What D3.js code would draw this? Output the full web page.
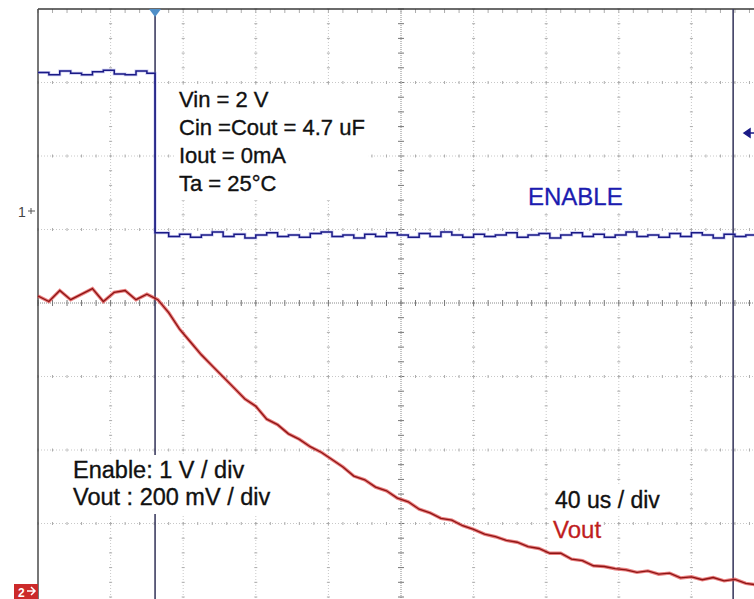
<!DOCTYPE html>
<meta charset="utf-8">
<title>Enable shutdown - Vout discharge</title>
<style>
body { margin: 0; background: #fff; }
svg { display: block; }
text { font-family: "Liberation Sans", Arial, sans-serif; }
.grid { stroke: #c8c8c8; stroke-width: 1; stroke-dasharray: 1,2; }
.gtick { stroke: #acacac; stroke-width: 1; }
.center { stroke: #8a8a8a; stroke-width: 1; stroke-dasharray: 1,1; }
.ctick { stroke: #777; stroke-width: 1; }
.cursor { stroke: #3e3e62; stroke-width: 1.6; }
.note { fill: #111; stroke: #111; stroke-width: 0.35px; }
</style>
<body>
<script src="https://d3js.org/d3.v7.min.js"></script>
<script>

var width = 754,
    height = 599;

// time base: 40 us/div, 10 divisions, samples every 6 us
var timeDomain = [0, 400];
var sampleStep = 6;
var triggerTime = 64.5;
var cursorTime = 383;

// ENABLE channel (1 V/div)
var enableHigh = [1.87, 1.84, 1.89, 1.86, 1.84, 1.88, 1.90, 1.85, 1.84, 1.89, 1.86];
var enableLowStart = 66;
var enableLow = [-0.31, -0.36, -0.33, -0.37, -0.34, -0.30, -0.36, -0.33, -0.38, -0.34,
                 -0.31, -0.36, -0.34, -0.37, -0.32, -0.30, -0.36, -0.34, -0.38, -0.33,
                 -0.36, -0.31, -0.34, -0.37, -0.32, -0.36, -0.30, -0.34, -0.37, -0.33,
                 -0.36, -0.34, -0.31, -0.37, -0.34, -0.32, -0.38, -0.34, -0.31, -0.36,
                 -0.33, -0.37, -0.34, -0.30, -0.36, -0.34, -0.37, -0.32, -0.36, -0.31,
                 -0.34, -0.38, -0.33, -0.36, -0.34, -0.37];

// Vout channel (200 mV/div), volts
var vout = [0.80, 0.785, 0.815, 0.79, 0.805, 0.82, 0.785, 0.81, 0.815, 0.79, 0.805,
            0.79, 0.755, 0.71, 0.675, 0.64, 0.61, 0.58, 0.55, 0.52, 0.50,
            0.465, 0.45, 0.425, 0.41, 0.39, 0.375, 0.355, 0.335, 0.31, 0.30,
            0.28, 0.27, 0.25, 0.24, 0.22, 0.21, 0.195, 0.19, 0.175, 0.165,
            0.152, 0.145, 0.135, 0.13, 0.118, 0.113, 0.1, 0.1, 0.084, 0.08,
            0.066, 0.064, 0.058, 0.055, 0.048, 0.052, 0.043, 0.046, 0.033, 0.036,
            0.028, 0.034, 0.025, 0.029, 0.018, 0.014];

var voltsPerDiv = {enable: 1, vout: 0.2};
// ground reference of each channel, in divisions from screen centre
var groundDiv = {enable: 1.265, vout: -3.905};

var x = d3.scaleLinear().domain(timeDomain).range([38, 764]);
var yDiv = d3.scaleLinear().domain([-4, 4]).range([597, 9]);

function yEnable(v) { return yDiv(groundDiv.enable + v / voltsPerDiv.enable); }
function yVout(v) { return yDiv(groundDiv.vout + v / voltsPerDiv.vout); }

var svg = d3.select("body").append("svg")
    .attr("width", width)
    .attr("height", height);

// graticule
var g = svg.append("g");
var vDivs = d3.range(1, 10),
    hDivs = d3.range(-3, 4);

vDivs.forEach(function(k) {
  var t = k * 40, cx = x(t), isC = (k == 5);
  g.append("line").attr("class", isC ? "center" : "grid")
    .attr("x1", cx).attr("x2", cx).attr("y1", 9).attr("y2", height);
  d3.range(-4, 4.01, 0.2).forEach(function(d) {
    var len = isC ? 3 : 1.5;
    g.append("line").attr("class", isC ? "ctick" : "gtick")
      .attr("x1", cx - len).attr("x2", cx + len)
      .attr("y1", yDiv(d)).attr("y2", yDiv(d));
  });
});

hDivs.forEach(function(k) {
  var cy = yDiv(k), isC = (k == 0);
  g.append("line").attr("class", isC ? "center" : "grid")
    .attr("x1", 38).attr("x2", width).attr("y1", cy).attr("y2", cy);
  d3.range(0, 400.1, 8).forEach(function(t) {
    var len = isC ? 3 : 1.5;
    g.append("line").attr("class", isC ? "ctick" : "gtick")
      .attr("x1", x(t)).attr("x2", x(t))
      .attr("y1", cy - len).attr("y2", cy + len);
  });
});

// ticks hanging from the top border
d3.range(0, 400.1, 8).forEach(function(t) {
  g.append("line").attr("class", "gtick")
    .attr("x1", x(t)).attr("x2", x(t)).attr("y1", 9).attr("y2", 13);
});

// borders
g.append("line").attr("x1", 38).attr("x2", width).attr("y1", 9).attr("y2", 9)
  .attr("stroke", "#3a3a3a").attr("stroke-width", 1.5);
g.append("line").attr("x1", 38).attr("x2", 38).attr("y1", 9).attr("y2", height)
  .attr("stroke", "#4a4a4a").attr("stroke-width", 1.5);

// cursors
[triggerTime, cursorTime].forEach(function(t) {
  g.append("line").attr("class", "cursor")
    .attr("x1", x(t)).attr("x2", x(t)).attr("y1", 9).attr("y2", height);
});

// annotations (white boxes behind them hide the graticule)
var bg = svg.append("g"), labels = svg.append("g");

function label(s, lx, ly, size, color) {
  var t = labels.append("text").attr("x", lx).attr("y", ly)
    .style("font-size", size + "px").text(s);
  if (color) t.attr("fill", color).attr("stroke", color).attr("stroke-width", 0.3);
  else t.attr("class", "note");
  return t;
}
function box(sel, pad) {
  var b = sel.node().getBBox();
  bg.append("rect").attr("x", b.x - pad).attr("y", b.y - pad + 2)
    .attr("width", b.width + 2 * pad).attr("height", b.height + 2 * pad - 2)
    .attr("fill", "#fff");
}

var notes = ["Vin = 2 V", "Cin =Cout = 4.7 uF", "Iout = 0mA", "Ta = 25\u00B0C"];
var noteG = labels.append("g");
notes.forEach(function(s, i) {
  noteG.append("text").attr("class", "note").attr("x", 179).attr("y", 107 + i * 28)
    .style("font-size", "22px").text(s);
});
box(noteG, 4);

var scaleG = labels.append("g");
scaleG.append("text").attr("class", "note").attr("x", 73).attr("y", 478)
  .style("font-size", "23.5px").text("Enable: 1 V / div");
scaleG.append("text").attr("class", "note").attr("x", 73).attr("y", 505)
  .style("font-size", "23.5px").text("Vout : 200 mV / div");
box(scaleG, 4);

box(label("40 us / div", 555, 508, 23), 3);
box(label("ENABLE", 528, 205, 24, "#1c1cb0"), 3);
box(label("Vout", 553, 538, 24, "#c01e1e"), 2);

// ENABLE trace
var enPts = enableHigh.map(function(v, i) { return [i * sampleStep, v]; });
enPts.push([triggerTime, enableHigh[enableHigh.length - 1]]);
enPts.push([triggerTime, enableLow[0]]);
enableLow.forEach(function(v, i) { enPts.push([enableLowStart + i * sampleStep, v]); });

var enLine = d3.line().curve(d3.curveStepAfter)
  .x(function(d) { return x(d[0]); }).y(function(d) { return yEnable(d[1]); });
svg.append("path").datum(enPts).attr("d", enLine)
  .attr("fill", "none").attr("stroke", "#8a8ae0").attr("stroke-width", 3).attr("opacity", 0.45);
svg.append("path").datum(enPts).attr("d", enLine)
  .attr("fill", "none").attr("stroke", "#1a1a86").attr("stroke-width", 1.5);

// Vout trace
var voPts = vout.map(function(v, i) { return [i * sampleStep, v]; });
var voLine = d3.line()
  .x(function(d) { return x(d[0]); }).y(function(d) { return yVout(d[1]); });
svg.append("path").datum(voPts).attr("d", voLine)
  .attr("fill", "none").attr("stroke", "#e04848").attr("stroke-width", 3.4).attr("opacity", 0.7);
svg.append("path").datum(voPts).attr("d", voLine)
  .attr("fill", "none").attr("stroke", "#8e1414").attr("stroke-width", 1.3);

// markers
svg.append("path")
  .attr("d", "M" + (x(triggerTime) - 6) + ",9 L" + (x(triggerTime) + 6) + ",9 L" + x(triggerTime) + ",17 Z")
  .attr("fill", "#4f8fc8");
svg.append("path")
  .attr("d", "M744,133 L750,129 L750,137 Z M748,133 L754,133")
  .attr("fill", "#1a1a86").attr("stroke", "#1a1a86").attr("stroke-width", 1.5);
svg.append("text").attr("x", 18).attr("y", 217).attr("fill", "#444")
  .style("font-size", "14px").text("1");
svg.append("path").attr("d", "M28,211 L35,211 M31,208 L31,214")
  .attr("fill", "none").attr("stroke", "#555").attr("stroke-width", 1);
svg.append("rect").attr("x", 14).attr("y", 584).attr("width", 24).attr("height", 15)
  .attr("fill", "#cc2a2a");
svg.append("text").attr("x", 18).attr("y", 597).attr("fill", "#fff")
  .style("font-size", "12px").style("font-weight", "bold").text("2");
svg.append("path").attr("d", "M27,591 L35,591 M31,587 L35,591 L31,595")
  .attr("fill", "none").attr("stroke", "#fff").attr("stroke-width", 1.5);

</script>
</body>
</html>
